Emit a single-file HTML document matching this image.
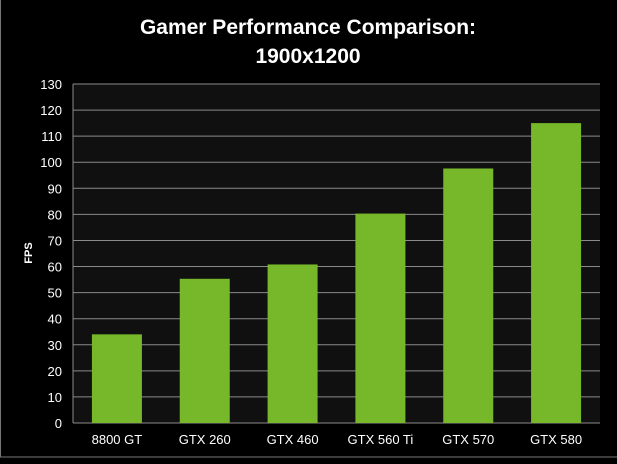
<!DOCTYPE html>
<html><head><meta charset="utf-8"><style>
body{margin:0;background:#000;width:617px;height:459px;overflow:hidden}
svg text{font-family:"Liberation Sans","DejaVu Sans",sans-serif;fill:#fff}
</style></head><body>
<svg id="c" width="617" height="459">
<rect x="0.5" y="-1" width="630" height="458" fill="none" stroke="#777" stroke-width="1"/>
<text x="308" y="34" text-anchor="middle" font-size="21" font-weight="bold">Gamer Performance Comparison:</text>
<text x="308" y="63" text-anchor="middle" font-size="21" font-weight="bold">1900x1200</text>
<text transform="translate(32,253) rotate(-90)" text-anchor="middle" font-size="11" font-weight="bold">FPS</text>
<g id="plot"></g>
</svg>
<script>
const categories=["8800 GT","GTX 260","GTX 460","GTX 560 Ti","GTX 570","GTX 580"];
const fps=[34,55.3,60.8,80.3,97.6,115];
const yTicks=[0,10,20,30,40,50,60,70,80,90,100,110,120,130];
const L=73,R=600,T=84,B=423,yMax=130;
const y=v=>B-(v/yMax)*(B-T);
const bw=(R-L)/categories.length;
const x=i=>L+bw*i;
const g=document.getElementById('plot');
const ns='http://www.w3.org/2000/svg';
function mk(t,a){const e=document.createElementNS(ns,t);for(const k in a)e.setAttribute(k,a[k]);g.appendChild(e);return e;}
let bg=mk('rect',{x:L,y:T,width:R-L,height:B-T,fill:'#101010'});


yTicks.forEach(v=>{
 const ln=mk('line',{x1:L,x2:R,y1:y(v),y2:y(v),stroke:'#8a8a8a','stroke-width':1});
 
 
 const t=mk('text',{x:L-11,y:y(v)+5,'text-anchor':'end','font-size':13});
 t.textContent=v;
 
 
});
const ax=mk('line',{x1:L,x2:L,y1:T,y2:B,stroke:'#8a8a8a','stroke-width':1});


categories.forEach((c,i)=>{
 const cx=x(i)+bw/2;
 const r=mk('rect',{x:cx-25,y:y(fps[i]),width:50,height:B-y(fps[i]),fill:'#76b82a'});
 
 
 const t=mk('text',{x:cx,y:444,'text-anchor':'middle','font-size':13});
 t.textContent=c;
 
 
});
</script>
</body></html>
